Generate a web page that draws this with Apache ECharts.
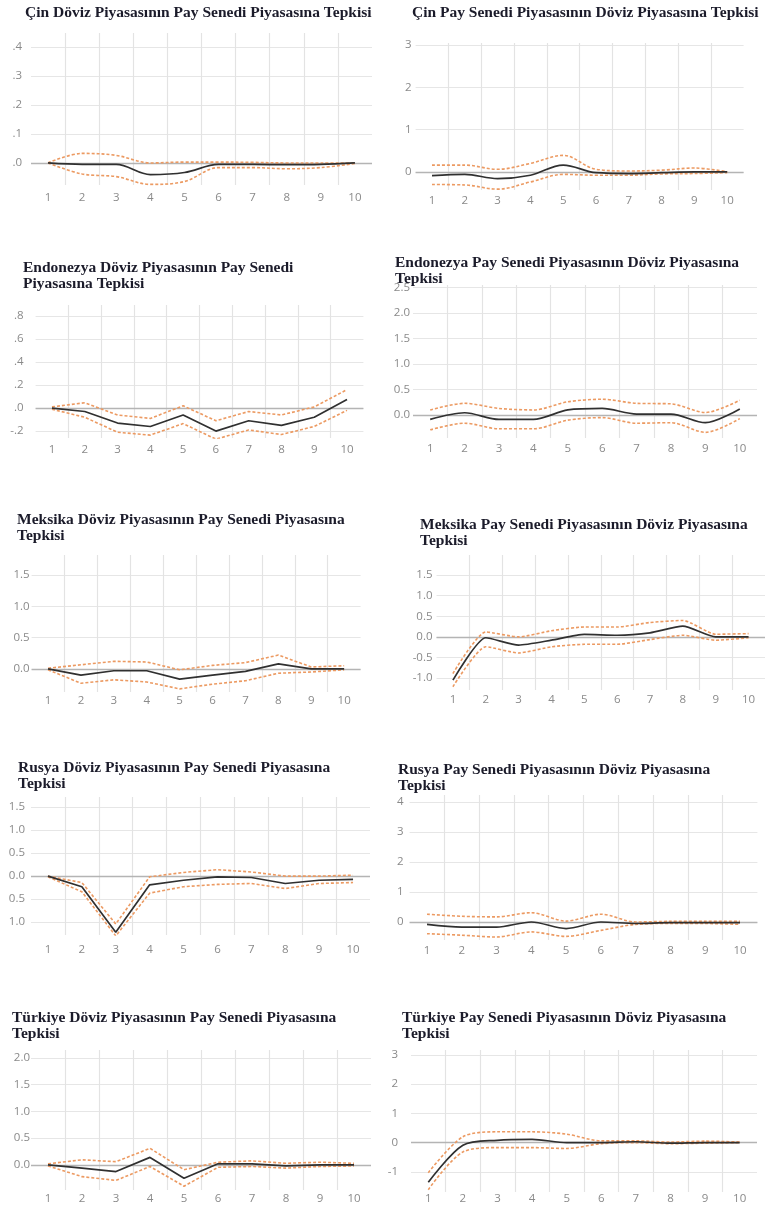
<!DOCTYPE html>
<html>
<head>
<meta charset="utf-8">
<script src="https://cdn.jsdelivr.net/npm/echarts@6.0.0/dist/echarts.min.js"></script>
<style>
html, body { margin: 0; padding: 0; background: #fff; }
#chart { width: 765px; height: 1208px; }
</style>
</head>
<body>
<div id="chart"></div>
<script>
// donemler (x ekseni)
var periods = ['1', '2', '3', '4', '5', '6', '7', '8', '9', '10'];

var titles = [
    'Çin Döviz Piyasasının Pay Senedi Piyasasına Tepkisi',
    'Çin Pay Senedi Piyasasının Döviz Piyasasına Tepkisi',
    'Endonezya Döviz Piyasasının Pay Senedi\nPiyasasına Tepkisi',
    'Endonezya Pay Senedi Piyasasının Döviz Piyasasına\nTepkisi',
    'Meksika Döviz Piyasasının Pay Senedi Piyasasına\nTepkisi',
    'Meksika Pay Senedi Piyasasının Döviz Piyasasına\nTepkisi',
    'Rusya Döviz Piyasasının Pay Senedi Piyasasına\nTepkisi',
    'Rusya Pay Senedi Piyasasının Döviz Piyasasına\nTepkisi',
    'Türkiye Döviz Piyasasının Pay Senedi Piyasasına\nTepkisi',
    'Türkiye Pay Senedi Piyasasının Döviz Piyasasına\nTepkisi'
];

// etki-tepki degerleri: mid = tepki, high/low = guven bandi
var chinaFxMid  = [0, -0.005, -0.005, -0.04, -0.033, -0.005, -0.005, -0.006, -0.005, 0];
var chinaFxHigh = [0, 0.033, 0.026, 0.0, 0.003, 0.003, 0.002, 0.0, 0.0, 0];
var chinaFxLow  = [0, -0.038, -0.047, -0.074, -0.064, -0.016, -0.016, -0.02, -0.016, -0.002];

var chinaEqMid  = [-0.09, -0.06, -0.16, -0.08, 0.16, -0.02, -0.04, -0.02, 0, 0];
var chinaEqHigh = [0.16, 0.16, 0.06, 0.2, 0.39, 0.06, 0.02, 0.04, 0.09, 0];
var chinaEqLow  = [-0.3, -0.31, -0.41, -0.24, -0.06, -0.08, -0.08, -0.05, -0.04, -0.02];

var indoFxMid  = [0, -0.03, -0.13, -0.16, -0.06, -0.2, -0.11, -0.15, -0.08, 0.075];
var indoFxHigh = [0.01, 0.046, -0.06, -0.09, 0.02, -0.11, -0.03, -0.06, 0.01, 0.16];
var indoFxLow  = [-0.01, -0.08, -0.21, -0.235, -0.135, -0.27, -0.19, -0.23, -0.16, -0.02];

var indoEqMid  = [-0.085, 0.045, -0.085, -0.085, 0.1, 0.13, 0.02, 0.02, -0.15, 0.12];
var indoEqHigh = [0.1, 0.23, 0.13, 0.1, 0.26, 0.31, 0.23, 0.22, 0.05, 0.29];
var indoEqLow  = [-0.29, -0.16, -0.27, -0.27, -0.1, -0.05, -0.16, -0.15, -0.34, -0.07];

var mexFxMid  = [0, -0.1, -0.03, -0.03, -0.165, -0.1, -0.04, 0.08, 0, 0];
var mexFxHigh = [0.01, 0.065, 0.12, 0.11, -0.015, 0.055, 0.1, 0.22, 0.03, 0.05];
var mexFxLow  = [-0.015, -0.23, -0.175, -0.21, -0.32, -0.245, -0.19, -0.07, -0.05, -0.015];

var mexEqMid  = [-1.05, -0.02, -0.2, -0.08, 0.06, 0.04, 0.1, 0.26, 0, 0];
var mexEqHigh = [-0.89, 0.12, 0, 0.15, 0.24, 0.24, 0.35, 0.4, 0.065, 0.08];
var mexEqLow  = [-1.21, -0.24, -0.39, -0.24, -0.18, -0.18, -0.065, 0.04, -0.08, -0.02];

var rusFxMid  = [0, -0.23, -1.22, -0.19, -0.09, -0.015, -0.03, -0.16, -0.09, -0.07];
var rusFxHigh = [0, -0.14, -1.04, -0.015, 0.08, 0.14, 0.09, 0, 0, 0.02];
var rusFxLow  = [-0.015, -0.34, -1.3, -0.37, -0.23, -0.18, -0.16, -0.27, -0.16, -0.14];

var rusEqMid  = [-0.08, -0.17, -0.17, 0, -0.22, 0, -0.05, -0.02, -0.02, -0.02];
var rusEqHigh = [0.26, 0.19, 0.17, 0.31, 0.03, 0.26, 0, 0.02, 0.02, 0.02];
var rusEqLow  = [-0.39, -0.44, -0.5, -0.33, -0.48, -0.28, -0.08, -0.05, -0.05, -0.08];

var turFxMid  = [0, -0.06, -0.125, 0.14, -0.25, 0.02, 0.02, -0.02, 0, 0];
var turFxHigh = [0.02, 0.095, 0.06, 0.31, -0.09, 0.05, 0.075, 0.03, 0.05, 0.03];
var turFxLow  = [-0.02, -0.22, -0.29, -0.03, -0.4, -0.045, -0.03, -0.06, -0.03, -0.02];

var turEqMid  = [-1.36, -0.09, 0.08, 0.11, 0, 0, 0.03, -0.02, 0, 0];
var turEqHigh = [-1.03, 0.2, 0.37, 0.37, 0.29, 0.06, 0.06, 0.02, 0.05, 0.02];
var turEqLow  = [-1.61, -0.32, -0.17, -0.17, -0.2, -0.035, 0, -0.035, -0.02, 0];

// y ekseni etiketleri (gorundugu gibi)
var ticksSmall = [0, 0.1, 0.2, 0.3, 0.4];
var labelsSmall = ['.0', '.1', '.2', '.3', '.4'];
var ticksInt3 = [0, 1, 2, 3];
var labelsInt3 = ['0', '1', '2', '3'];
var ticksIndo = [-0.2, 0, 0.2, 0.4, 0.6, 0.8];
var labelsIndo = ['-.2', '.0', '.2', '.4', '.6', '.8'];
var ticksHalf25 = [0, 0.5, 1, 1.5, 2, 2.5];
var labelsHalf25 = ['0.0', '0.5', '1.0', '1.5', '2.0', '2.5'];
var ticksHalf15 = [0, 0.5, 1, 1.5];
var labelsHalf15 = ['0.0', '0.5', '1.0', '1.5'];
var ticksNeg15 = [-1, -0.5, 0, 0.5, 1, 1.5];
var labelsNeg15 = ['-1.0', '-0.5', '0.0', '0.5', '1.0', '1.5'];
var labelsRusFx = ['1.0', '0.5', '0.0', '0.5', '1.0', '1.5'];
var ticksInt4 = [0, 1, 2, 3, 4];
var labelsInt4 = ['0', '1', '2', '3', '4'];
var ticksHalf20 = [0, 0.5, 1, 1.5, 2];
var labelsHalf20 = ['0.0', '0.5', '1.0', '1.5', '2.0'];
var ticksTur = [-1, 0, 1, 2, 3];
var labelsTur = ['-1', '0', '1', '2', '3'];

// panel yerlesimi
var panels = [
    { mid: chinaFxMid, high: chinaFxHigh, low: chinaFxLow, ticks: ticksSmall, labels: labelsSmall,
      min: -0.076, max: 0.448, g: [31, 33, 341, 152], t: [25, 5], xm: 7, ym: 9, smooth: 0.35 },
    { mid: chinaEqMid, high: chinaEqHigh, low: chinaEqLow, ticks: ticksInt3, labels: labelsInt3,
      min: -0.43, max: 3.05, g: [415.6, 43, 328, 147], t: [412, 5], xm: 5, ym: 4, smooth: 0.35 },
    { mid: indoFxMid, high: indoFxHigh, low: indoFxLow, ticks: ticksIndo, labels: labelsIndo,
      min: -0.26, max: 0.895, g: [35.6, 305, 327.8, 133], t: [23, 260], xm: 6, ym: 12, smooth: 0 },
    { mid: indoEqMid, high: indoEqHigh, low: indoEqLow, ticks: ticksHalf25, labels: labelsHalf25,
      min: -0.45, max: 2.55, g: [413, 285, 344, 153], t: [395, 255], xm: 5, ym: 3, smooth: 0.3 },
    { mid: mexFxMid, high: mexFxHigh, low: mexFxLow, ticks: ticksHalf15, labels: labelsHalf15,
      min: -0.37, max: 1.82, g: [31.6, 555, 329, 137], t: [17, 512], xm: 3, ym: 2, smooth: 0 },
    { mid: mexEqMid, high: mexEqHigh, low: mexEqLow, ticks: ticksNeg15, labels: labelsNeg15,
      min: -1.29, max: 1.99, g: [436.5, 555, 330, 135], t: [420, 517], xm: 4, ym: 4, smooth: 0.2 },
    { mid: rusFxMid, high: rusFxHigh, low: rusFxLow, ticks: ticksNeg15, labels: labelsRusFx,
      min: -1.28, max: 1.72, g: [31, 797, 339, 138], t: [18, 760], xm: 9, ym: 6, smooth: 0 },
    { mid: rusEqMid, high: rusEqHigh, low: rusEqLow, ticks: ticksInt4, labels: labelsInt4,
      min: -0.6, max: 4.23, g: [409.6, 795, 347.8, 145], t: [398, 762], xm: 5, ym: 6, smooth: 0.3 },
    { mid: turFxMid, high: turFxHigh, low: turFxLow, ticks: ticksHalf20, labels: labelsHalf20,
      min: -0.47, max: 2.15, g: [31, 1050, 340, 140], t: [12, 1010], xm: 3, ym: 1, smooth: 0 },
    { mid: turEqMid, high: turEqHigh, low: turEqLow, ticks: ticksTur, labels: labelsTur,
      min: -1.69, max: 3.17, g: [411, 1050, 346, 142], t: [402, 1010], xm: 1, ym: 13, smooth: 0.3 }
];

var midColor = '#303030';
var bandColor = '#ec9a62';

function buildOption() {
    var title = [], grid = [], xAxis = [], yAxis = [], series = [];
    panels.forEach(function (p, i) {
        title.push({
            text: titles[i],
            left: p.t[0],
            top: p.t[1],
            padding: 0,
            textStyle: {
                fontFamily: 'Liberation Serif',
                fontWeight: 'bold',
                fontSize: 15.5,
                lineHeight: 16,
                color: '#1b1b2a'
            }
        });
        grid.push({ left: p.g[0], top: p.g[1], width: p.g[2], height: p.g[3] });
        xAxis.push({
            type: 'category',
            gridIndex: i,
            data: periods,
            boundaryGap: true,
            axisLine: { show: false },
            axisTick: { show: false },
            axisLabel: { margin: p.xm, color: '#8a8a8a', fontSize: 11.5, fontFamily: 'Open Sans' },
            splitLine: {
                show: true,
                showMinLine: false,
                showMaxLine: false,
                lineStyle: { color: '#e3e3e3', width: 1.2 }
            }
        });
        var labs = p.labels, tks = p.ticks;
        yAxis.push({
            type: 'value',
            gridIndex: i,
            min: p.min,
            max: p.max,
            axisLine: { show: false },
            axisTick: { show: false, customValues: tks },
            axisLabel: {
                customValues: tks,
                margin: p.ym,
                color: '#8a8a8a',
                fontSize: 11.5,
                fontFamily: 'Open Sans',
                formatter: function (v) {
                    for (var k = 0; k < tks.length; k++) {
                        if (Math.abs(tks[k] - v) < 1e-6) return labs[k];
                    }
                    return '';
                }
            },
            splitLine: { show: true, lineStyle: { color: '#e6e6e6', width: 1 } }
        });
        var bandStyle = { color: bandColor, width: 1.6, type: [3, 2] };
        series.push({
            type: 'line', xAxisIndex: i, yAxisIndex: i, data: p.high,
            symbol: 'none', smooth: p.smooth, lineStyle: bandStyle, z: 3
        });
        series.push({
            type: 'line', xAxisIndex: i, yAxisIndex: i, data: p.low,
            symbol: 'none', smooth: p.smooth, lineStyle: bandStyle, z: 3
        });
        series.push({
            type: 'line', xAxisIndex: i, yAxisIndex: i, data: p.mid,
            symbol: 'none', smooth: p.smooth,
            lineStyle: { color: midColor, width: 1.7 }, z: 4,
            markLine: {
                silent: true,
                symbol: 'none',
                label: { show: false },
                lineStyle: { color: '#b4b4b4', width: 1.4, type: 'solid' },
                data: [{ yAxis: 0 }],
                z: 2
            }
        });
    });
    return {
        animation: false,
        backgroundColor: '#fff',
        title: title,
        grid: grid,
        xAxis: xAxis,
        yAxis: yAxis,
        series: series
    };
}

var myChart = echarts.init(document.getElementById('chart'));
myChart.setOption(buildOption());
</script>
</body>
</html>
